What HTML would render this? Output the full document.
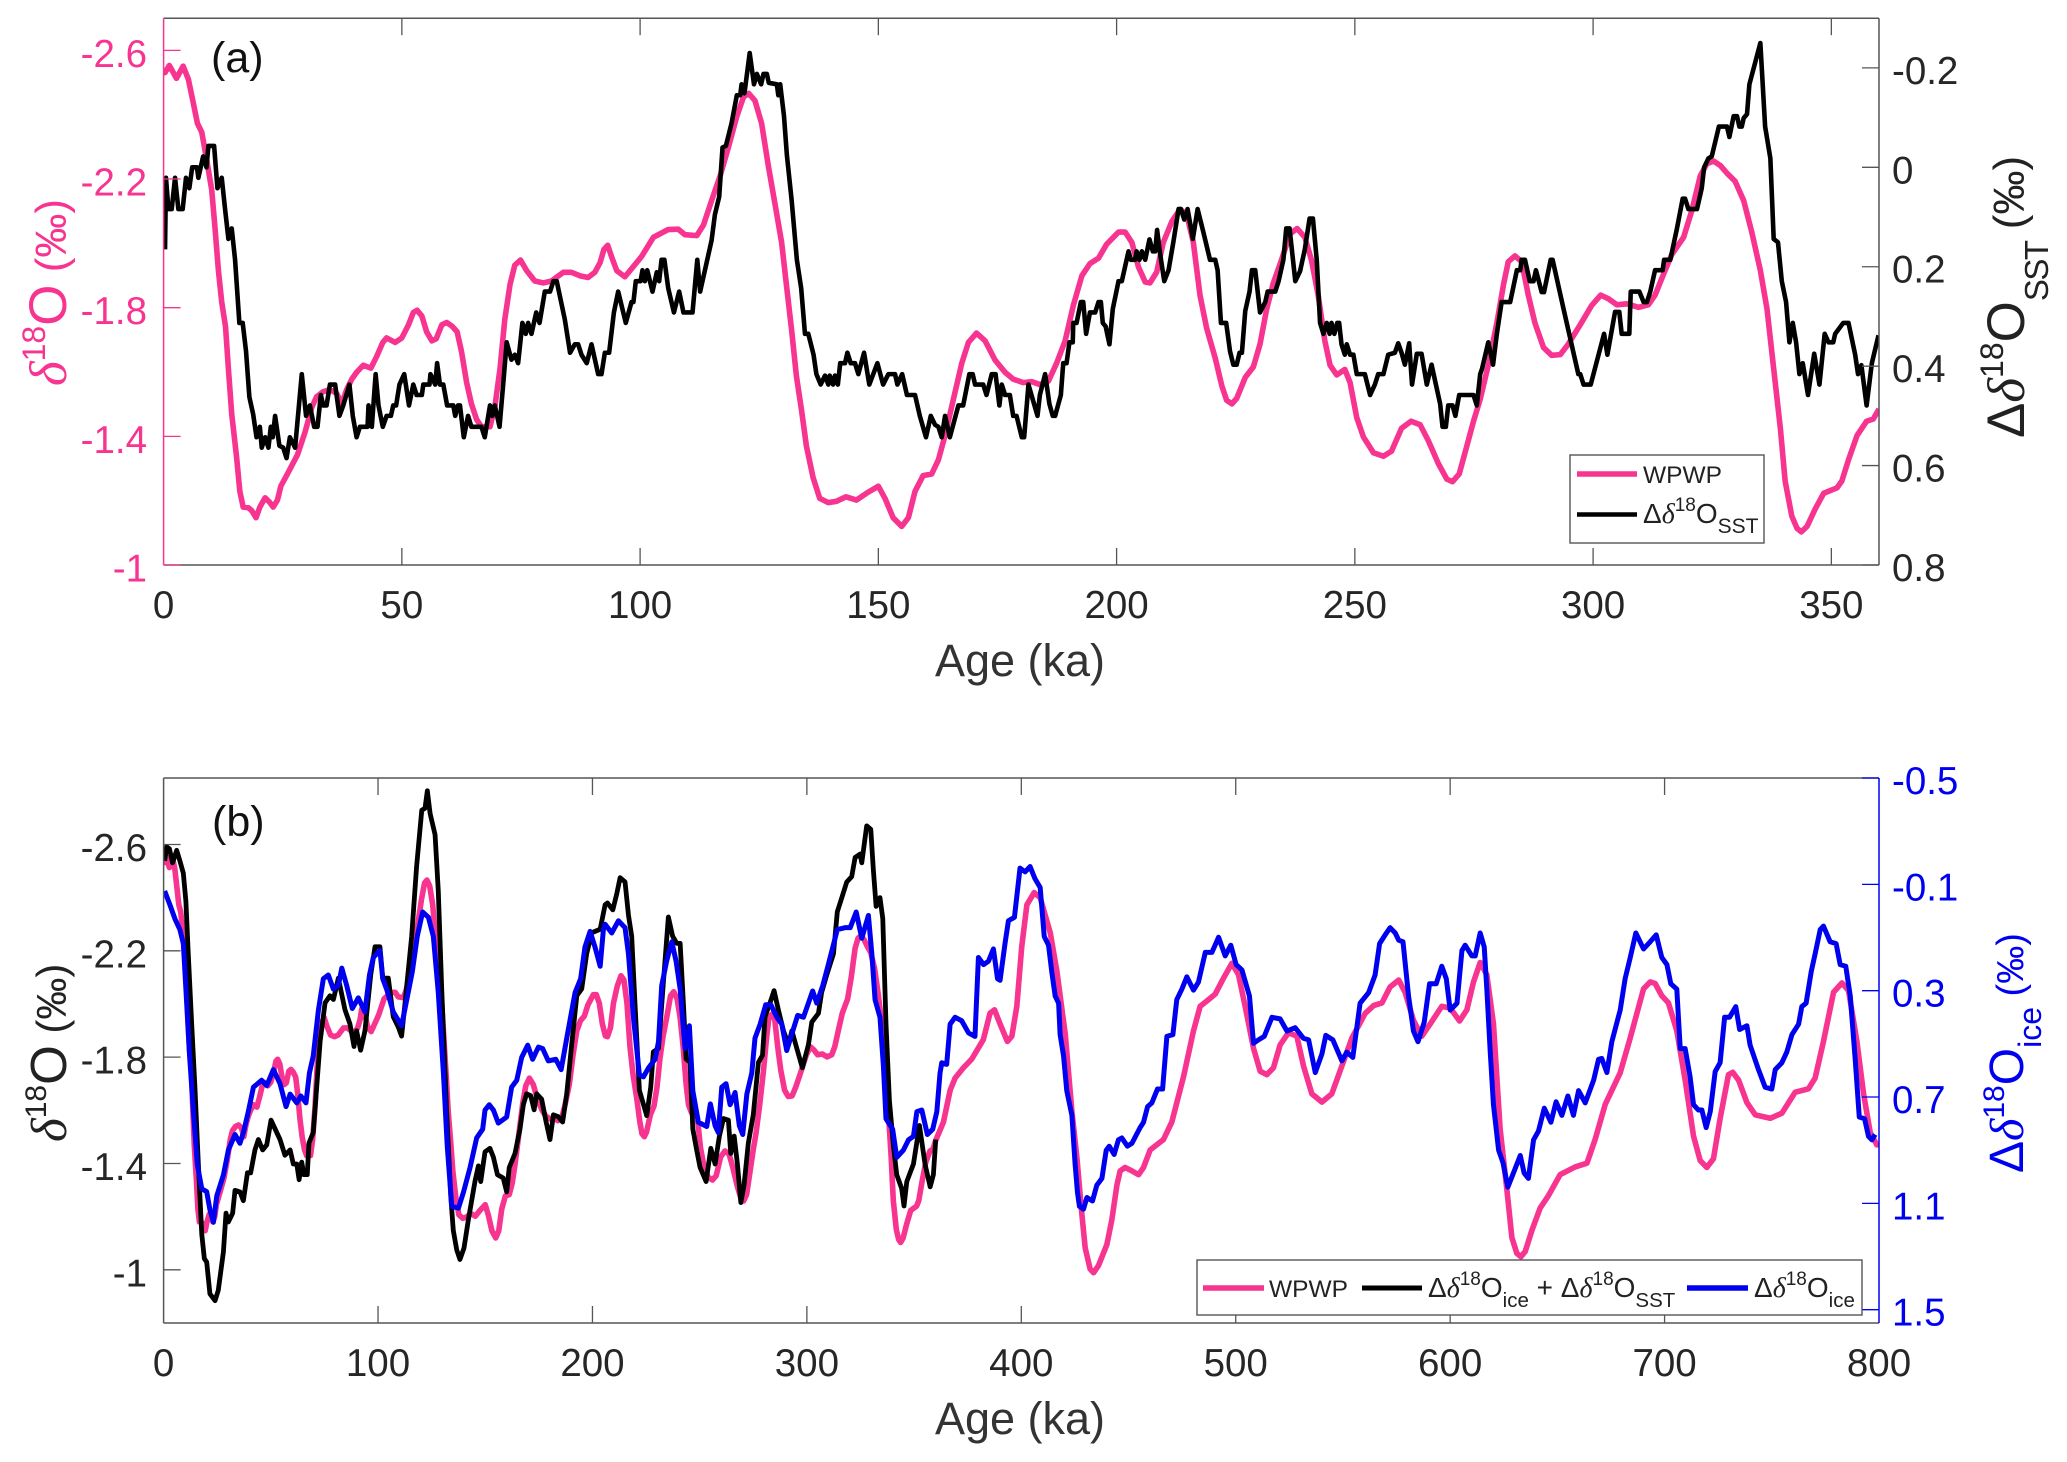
<!DOCTYPE html>
<html lang="en">
<head>
<meta charset="utf-8">
<title>WPWP δ18O comparison</title>
<style>
html,body{margin:0;padding:0;background:#fff;}
svg{display:block;font-family:"Liberation Sans",sans-serif;}
.greek{font-family:"Liberation Serif",serif;font-style:italic;}
</style>
</head>
<body>
<svg id="figure" xmlns="http://www.w3.org/2000/svg" width="2067" height="1462" viewBox="0 0 2067 1462">
<defs>
<clipPath id="clip-a"><rect x="163.6" y="18.2" width="1715.4" height="546.8"/></clipPath>
<clipPath id="clip-b"><rect x="163.6" y="778" width="1715.4" height="545"/></clipPath>
</defs>
<rect x="0" y="0" width="2067" height="1462" fill="#fff"/>
<g id="panel-a"></g>
<g id="panel-b"></g>

<text x="211" y="72" font-size="43" fill="#111">(a)</text>
<text x="212" y="836" font-size="43" fill="#111">(b)</text>

<text x="1020" y="676" font-size="45" fill="#333" text-anchor="middle">Age (ka)</text>
<text x="1020" y="1434" font-size="45" fill="#333" text-anchor="middle">Age (ka)</text>

<text transform="translate(66,386) rotate(-90)" fill="#f7348f" font-size="53"><tspan class="greek">δ</tspan><tspan font-size="32" dy="-21">18</tspan><tspan dy="21">O</tspan><tspan font-size="44"> (‰)</tspan></text>
<text transform="translate(2024,438) rotate(-90)" fill="#222" font-size="53"><tspan>Δ</tspan><tspan class="greek">δ</tspan><tspan font-size="32" dy="-21">18</tspan><tspan dy="21">O</tspan><tspan font-size="33" letter-spacing="-1.5" dy="24">SST</tspan><tspan font-size="44" dy="-24"> (‰)</tspan></text>
<text transform="translate(66,1142) rotate(-90)" fill="#222" font-size="51"><tspan class="greek">δ</tspan><tspan font-size="30" dy="-20">18</tspan><tspan dy="20">O</tspan><tspan font-size="42"> (‰)</tspan></text>
<text transform="translate(2023,1173) rotate(-90)" fill="#0000f0" font-size="48"><tspan>Δ</tspan><tspan class="greek">δ</tspan><tspan font-size="30" dy="-19">18</tspan><tspan dy="19">O</tspan><tspan font-size="32" dy="18">ice</tspan><tspan font-size="38" dy="-18"> (‰)</tspan></text>

<g>
<rect x="1570" y="455" width="194" height="88" fill="#fff" stroke="#555" stroke-width="1.4"/>
<line x1="1577" y1="474" x2="1637" y2="474" stroke="#f7348f" stroke-width="5.5"/>
<text x="1643" y="483" font-size="24.5" fill="#222">WPWP</text>
<line x1="1577" y1="514.5" x2="1637" y2="514.5" stroke="#000" stroke-width="4.5"/>
<text x="1643" y="523" font-size="28" fill="#222"><tspan>Δ</tspan><tspan class="greek">δ</tspan><tspan font-size="19" dy="-12">18</tspan><tspan dy="12">O</tspan><tspan font-size="21" dy="10">SST</tspan></text>
</g>

<g>
<rect x="1197" y="1260" width="665" height="55" fill="#fff" stroke="#555" stroke-width="1.4"/>
<line x1="1203" y1="1288" x2="1264" y2="1288" stroke="#f7348f" stroke-width="5.5"/>
<text x="1269" y="1297" font-size="24.5" fill="#222">WPWP</text>
<line x1="1362" y1="1288" x2="1422" y2="1288" stroke="#000" stroke-width="5"/>
<text x="1428" y="1297" font-size="28" fill="#222"><tspan>Δ</tspan><tspan class="greek">δ</tspan><tspan font-size="19" dy="-12">18</tspan><tspan dy="12">O</tspan><tspan font-size="20.5" dy="10">ice</tspan><tspan dy="-10"> + Δ</tspan><tspan class="greek">δ</tspan><tspan font-size="19" dy="-12">18</tspan><tspan dy="12">O</tspan><tspan font-size="20.5" dy="10">SST</tspan></text>
<line x1="1687" y1="1288" x2="1748" y2="1288" stroke="#0000f0" stroke-width="5.5"/>
<text x="1754" y="1297" font-size="28" fill="#222"><tspan>Δ</tspan><tspan class="greek">δ</tspan><tspan font-size="19" dy="-12">18</tspan><tspan dy="12">O</tspan><tspan font-size="20.5" dy="10">ice</tspan></text>
</g>
</svg>

<script>
const panelAAgeTicks = [0,50,100,150,200,250,300,350];
const panelALeftTicks = [-2.6,-2.2,-1.8,-1.4,-1];
const panelARightTicks = [-0.2,0,0.2,0.4,0.6,0.8];
const panelBAgeTicks = [0,100,200,300,400,500,600,700,800];
const panelBLeftTicks = [-2.6,-2.2,-1.8,-1.4,-1];
const panelBRightTicks = [-0.5,-0.1,0.3,0.7,1.1,1.5];

const wpwpAge = [
0,0.3,1.2,2.7,4.1,5.2,6.2,7.1,8,9,
10.1,10.8,11.5,12.2,13,13.6,14.3,15.3,16,16.7,
17.8,18.5,19.4,20.2,21.3,22.2,23,23.9,24.6,26.2,
28.1,29.7,31.1,32.1,33.5,34.9,36.3,37.4,38.4,39.5,
40.5,41.9,43.5,44.7,46,46.8,48.6,50,51.4,52.4,
53.2,54.2,55.2,56.3,57.2,58.4,59.4,60.5,61.6,62.5,
63.6,64.6,65.7,66.7,68.5,69.5,70.6,71.6,72.7,73.7,
74.9,76.2,77.9,79.7,81.4,83.9,85.6,87.4,89.1,90.5,
91.6,92.4,93.2,94,95.1,96.8,98.2,100.3,102.8,105.9,
108,109.4,111.9,113.3,115,116.8,118.5,120.3,121.7,122.8,
124.1,125.5,126.9,128.3,129.7,130.7,131.8,132.8,133.9,134.9,
136.3,137.7,139.5,141.2,143.2,145.4,147.5,150,151.4,153.1,
154.9,156.3,157.7,159.4,161.2,162.6,164,165.7,167.5,168.9,
170.6,172.4,174.5,176.6,178.3,180.4,182.2,183.9,185.7,187.4,
189.2,190.9,192.7,194.4,196.2,197.9,200.4,201.8,203.2,204.6,
206,207,208.4,209.8,211.6,213.3,214.7,216.1,217.5,218.9,
220.7,222.1,223.1,224.2,225.2,227,228.7,230.1,231.5,232.9,
234.6,236.4,237.9,239.5,240.9,242.3,243.7,244.8,246.2,247.9,
249,250.4,251.8,253.9,256,257.7,259.8,261.8,263.7,265.4,
267.5,269.3,270.5,271.9,273.5,274.9,276.3,278,279.8,281.2,
282.2,283.6,285,286.4,287.8,289.6,291.3,293.1,294.8,297.3,
299.7,301.6,303.2,305,307.1,309.5,311.6,313,314.8,316.5,
319,320.7,322.5,323.9,325.3,326.7,328.1,329.8,331.6,333.3,
335.1,336.5,337.9,339.3,340.3,341.7,342.8,343.7,344.9,346.6,
348.4,351.2,352.2,353.6,355.4,357.4,358.8,360,363.7,366.8,
369.1,373,376.9,382.3,385.4,387.5,390.1,393.5,395.6,397.9,
400.2,402.6,406,408.8,413.5,416.6,420.5,423.6,425.9,428.2,
429.8,432.1,433.7,436,439.9,442.2,444.6,446.1,448.4,451.6,
454.7,457,460.1,466.3,470.2,475.7,480.3,483.4,486.5,490.4,
494.3,498.2,501.3,504.4,508.3,511.4,514.5,517.6,520.7,524.6,
528.5,531.6,535.5,540.2,544.8,549.5,554.2,560.4,564.3,568.2,
572,576,579,582.9,586.8,590.7,596.1,600,604.4,607.8,
610.9,614,617.1,620.2,623.3,626.4,628.8,631.1,633,635,
638.1,642,645.9,651.3,658.3,663.8,667.6,672.3,679.3,684,
690.2,693.3,695.6,698.7,701.8,705.7,709.6,713.5,716.6,719.7,
722.8,725.9,729.8,731.8,734.5,738.4,742.3,749.3,754.7,760.9,
767.1,770.2,774.1,778.8,782.7,785.8,789.7,792.8,795.9,799,800];
const wpwpValue = [
-2.53,-2.531,-2.553,-2.513,-2.551,-2.51,-2.439,-2.373,-2.346,-2.264,
-2.166,-2.046,-1.916,-1.817,-1.741,-1.61,-1.469,-1.338,-1.229,-1.18,
-1.178,-1.169,-1.147,-1.18,-1.209,-1.196,-1.18,-1.202,-1.245,-1.289,
-1.343,-1.414,-1.49,-1.523,-1.539,-1.545,-1.534,-1.501,-1.545,-1.578,
-1.599,-1.621,-1.612,-1.648,-1.692,-1.706,-1.692,-1.706,-1.747,-1.785,
-1.792,-1.774,-1.725,-1.697,-1.703,-1.747,-1.754,-1.743,-1.725,-1.665,
-1.567,-1.501,-1.452,-1.43,-1.43,-1.49,-1.61,-1.763,-1.872,-1.932,
-1.948,-1.915,-1.883,-1.877,-1.883,-1.91,-1.91,-1.899,-1.894,-1.91,
-1.94,-1.981,-1.994,-1.959,-1.915,-1.896,-1.921,-1.959,-2.019,-2.043,
-2.044,-2.027,-2.024,-2.057,-2.133,-2.21,-2.297,-2.395,-2.455,-2.466,
-2.444,-2.373,-2.242,-2.123,-2.003,-1.872,-1.73,-1.588,-1.479,-1.37,
-1.272,-1.207,-1.194,-1.198,-1.212,-1.202,-1.223,-1.245,-1.207,-1.147,
-1.12,-1.147,-1.229,-1.278,-1.283,-1.327,-1.403,-1.512,-1.627,-1.692,
-1.721,-1.697,-1.637,-1.599,-1.578,-1.567,-1.57,-1.561,-1.572,-1.627,
-1.697,-1.806,-1.899,-1.937,-1.954,-1.997,-2.035,-2.035,-2.003,-1.926,
-1.88,-1.877,-1.91,-2.003,-2.068,-2.106,-2.09,-2.003,-1.839,-1.736,
-1.643,-1.556,-1.512,-1.501,-1.518,-1.583,-1.616,-1.687,-1.796,-1.877,
-1.948,-2.03,-2.046,-2.019,-1.948,-1.839,-1.697,-1.621,-1.591,-1.608,
-1.567,-1.458,-1.398,-1.349,-1.338,-1.354,-1.425,-1.447,-1.436,-1.387,
-1.316,-1.267,-1.259,-1.283,-1.37,-1.447,-1.515,-1.621,-1.752,-1.872,
-1.943,-1.961,-1.943,-1.839,-1.752,-1.676,-1.652,-1.654,-1.687,-1.747,
-1.807,-1.839,-1.828,-1.809,-1.812,-1.801,-1.809,-1.839,-1.905,-1.965,
-2.019,-2.101,-2.21,-2.248,-2.256,-2.242,-2.218,-2.193,-2.133,-2.035,
-1.916,-1.796,-1.61,-1.425,-1.261,-1.152,-1.114,-1.103,-1.12,-1.174,
-1.223,-1.24,-1.261,-1.327,-1.403,-1.447,-1.454,-1.485,-1.556,-1.675,
-1.721,-1.76,-1.793,-1.866,-1.965,-1.978,-1.925,-1.859,-1.879,-1.991,
-2.215,-2.373,-2.419,-2.4,-2.268,-2.123,-1.886,-1.596,-1.424,-1.213,
-1.082,-1.003,-0.989,-1.016,-1.095,-1.187,-1.319,-1.372,-1.385,-1.372,
-1.358,-1.385,-1.451,-1.49,-1.556,-1.728,-1.899,-1.991,-2.011,-2.037,
-2.097,-2.153,-2.11,-1.991,-1.833,-1.747,-1.734,-1.76,-1.846,-1.892,
-1.879,-1.767,-1.662,-1.631,-1.662,-1.767,-1.872,-1.965,-1.994,-2.004,
-2.064,-2.09,-2.044,-1.938,-1.879,-1.925,-1.991,-1.985,-1.936,-1.978,
-2.083,-2.156,-2.11,-1.925,-1.53,-1.306,-1.121,-1.062,-1.049,-1.069,
-1.148,-1.233,-1.28,-1.358,-1.387,-1.401,-1.49,-1.622,-1.741,-1.873,
-2.057,-2.083,-2.077,-2.031,-2.004,-1.899,-1.714,-1.503,-1.411,-1.385,
-1.418,-1.569,-1.734,-1.743,-1.714,-1.629,-1.583,-1.57,-1.589,-1.668,
-1.681,-1.721,-1.859,-2.044,-2.079,-2.05,-1.859,-1.662,-1.517,-1.47,-1.477];

const sstAge = [
0.3,0.5,1.0,1.7,2.4,3.1,4.0,4.7,5.4,6.0,
7.0,7.3,8.3,9.0,9.4,10.6,11.3,12.2,12.9,13.6,
14.3,15.0,15.9,16.6,17.3,18.0,18.8,19.5,20.2,20.6,
21.3,22.0,22.5,22.9,23.4,24.3,25.1,25.8,26.5,27.6,
29.0,29.9,30.7,31.6,32.3,33.0,33.5,34.2,34.9,36.0,
36.9,37.7,39.0,39.7,40.5,41.2,42.8,43.0,43.7,44.5,
45.1,46,46.8,47.7,48.2,48.8,49.5,50.5,51.5,52.4,
53.1,54.2,54.5,55.8,56,57,57.4,58,58.7,59.5,
60.8,61.2,61.8,62.2,63,63.9,64.6,66.7,67.4,68.5,
69,69.5,70.5,71.3,72,73,73.7,74.4,75.3,76,
76.5,77.2,78.2,78.9,80,81.1,81.8,82.5,84.2,85.3,
86.3,87,87.7,88.8,89.8,91.2,91.9,92.6,93.5,94.5,
95.4,97,98.2,98.6,99.1,100.1,100.5,101,101.5,102.6,
103.5,104,104.5,105.1,105.9,107.1,108.2,109.1,111,112,
112.6,115,115.7,116.6,117.3,118,119.2,120.3,121,121.3,
121.9,123,123.9,124.5,125.4,125.9,126.6,127,128.7,129,
129.4,130.2,130.8,131.8,132.9,133.8,134.6,135.3,136.4,137,
137.9,138.8,139.5,139.8,140.5,140.9,141.5,142,143,143.5,
144.2,145.1,145.8,147,148.1,149.8,151,152.1,153.5,154,
155,156,157.7,158.7,160,161,161.9,162.6,163.3,164,
165,166.8,167.8,169.1,169.8,170.3,172,172.7,173.8,174.6,
175.4,175.9,176.6,177.6,178.3,179,180.1,180.6,181.5,183.4,
183.9,185,185.9,186.6,187.1,188.3,188.8,189.5,190.1,190.8,
190.9,191.6,192.5,193,193.6,194.4,195.5,196.2,196.7,197.1,
197.7,198.5,199.2,200.4,201.1,202.5,203,203.9,204.2,204.8,
205.3,206,206.9,207.6,208.1,208.5,209.1,210,210.9,211.9,
213,213.5,214.2,214.9,216,217,218.2,219.6,220.7,221.2,
221.9,223,223.8,224.5,225.2,225.8,226.3,227,227.9,228.4,
229.1,230.1,231.2,231.7,233.3,234,235,235.6,236.3,237.5,
238.5,239.5,240.5,241.2,242,242.7,243.4,244.1,244.7,245.1,
245.7,246.3,246.7,247.2,247.9,248.3,249,249.7,250.4,252.1,
253.2,254.2,254.9,256,257,258.4,259.1,259.8,260.5,261.4,
262,263,264,265.1,266.1,267.9,268.4,269.1,269.6,270.5,
271.1,271.9,274.9,275.6,276.3,276.7,278,279,279.8,280.8,
282.6,284,284.7,285,285.7,286.7,287.5,288,289.2,289.7,
291.1,291.5,293.8,296.9,297.3,298,299.5,302.3,303,304.6,
305.5,306,307.6,307.9,309.7,310.6,311.3,312,313,314.6,
314.9,316.2,317.6,318.8,319.3,320,321.8,322.8,323.3,324.2,
324.9,326.4,328.1,328.6,329.5,330.2,330.7,331.2,331.6,332.3,
332.8,335.1,336.1,337.2,337.9,338.8,339.6,340.5,341.2,341.9,
342.6,343.3,344,345.1,346.4,347.5,348.6,349.4,350.4,350.8,
352.5,353.6,355,355.6,356.3,357.4,358.5,359.9];
const sstValue = [
0.165,0.021,0.084,0.084,0.021,0.084,0.084,0.021,0.042,0,
0,0.021,-0.022,0,-0.043,-0.043,0.042,0.021,0.084,0.144,
0.123,0.186,0.313,0.313,0.37,0.462,0.497,0.543,0.522,0.564,
0.543,0.564,0.522,0.543,0.5,0.56,0.564,0.585,0.543,0.564,
0.416,0.5,0.479,0.522,0.522,0.458,0.479,0.479,0.437,0.437,
0.5,0.479,0.437,0.5,0.543,0.522,0.522,0.479,0.522,0.416,
0.479,0.522,0.5,0.5,0.479,0.479,0.437,0.416,0.479,0.437,
0.458,0.458,0.437,0.437,0.416,0.437,0.394,0.437,0.437,0.479,
0.479,0.5,0.479,0.479,0.543,0.5,0.522,0.522,0.543,0.479,
0.5,0.479,0.522,0.433,0.352,0.387,0.377,0.394,0.313,0.335,
0.313,0.335,0.292,0.313,0.25,0.25,0.229,0.229,0.306,0.373,
0.356,0.356,0.377,0.394,0.356,0.416,0.416,0.373,0.373,0.292,
0.25,0.313,0.271,0.271,0.229,0.229,0.207,0.229,0.207,0.25,
0.211,0.229,0.186,0.186,0.243,0.292,0.25,0.292,0.292,0.186,
0.25,0.147,0.095,0.059,-0.04,-0.043,-0.089,-0.145,-0.145,-0.167,
-0.149,-0.23,-0.167,-0.188,-0.167,-0.188,-0.188,-0.17,-0.167,-0.145,
-0.167,-0.103,-0.025,0.066,0.186,0.243,0.335,0.335,0.377,0.416,
0.437,0.419,0.437,0.419,0.437,0.419,0.437,0.394,0.394,0.373,
0.394,0.394,0.416,0.373,0.437,0.394,0.437,0.416,0.416,0.437,
0.416,0.458,0.458,0.5,0.543,0.5,0.518,0.522,0.543,0.5,
0.543,0.479,0.479,0.416,0.416,0.437,0.437,0.458,0.416,0.416,
0.479,0.437,0.458,0.458,0.5,0.5,0.543,0.543,0.437,0.5,
0.458,0.416,0.476,0.5,0.5,0.458,0.394,0.394,0.352,0.352,
0.313,0.313,0.271,0.271,0.335,0.292,0.292,0.271,0.271,0.313,
0.32,0.356,0.285,0.229,0.229,0.169,0.186,0.186,0.169,0.186,
0.169,0.186,0.145,0.169,0.169,0.126,0.172,0.229,0.207,0.151,
0.084,0.084,0.105,0.084,0.144,0.084,0.13,0.186,0.186,0.207,
0.313,0.313,0.37,0.397,0.397,0.373,0.373,0.289,0.25,0.207,
0.207,0.292,0.271,0.25,0.25,0.229,0.186,0.123,0.123,0.229,
0.209,0.165,0.103,0.103,0.186,0.313,0.335,0.313,0.335,0.313,
0.335,0.313,0.313,0.356,0.377,0.356,0.377,0.377,0.416,0.416,
0.458,0.437,0.416,0.416,0.377,0.373,0.354,0.373,0.397,0.354,
0.437,0.375,0.375,0.437,0.397,0.476,0.522,0.522,0.479,0.479,
0.5,0.458,0.458,0.479,0.416,0.405,0.352,0.397,0.335,0.271,
0.271,0.207,0.207,0.186,0.186,0.229,0.229,0.207,0.251,0.251,
0.186,0.186,0.285,0.416,0.416,0.437,0.437,0.335,0.377,0.291,
0.291,0.335,0.335,0.25,0.25,0.271,0.271,0.25,0.207,0.207,
0.186,0.186,0.123,0.063,0.063,0.084,0.084,0.042,0,-0.018,
-0.022,-0.082,-0.082,-0.061,-0.103,-0.103,-0.082,-0.082,-0.099,-0.107,
-0.167,-0.25,-0.082,-0.018,0.144,0.151,0.229,0.271,0.352,0.313,
0.352,0.416,0.394,0.458,0.375,0.437,0.335,0.352,0.352,0.335,
0.313,0.313,0.377,0.416,0.398,0.479,0.394,0.338];

const combinedAge = [
0.5,1.4,2.7,4.2,6.1,7.6,9.2,10.4,11.5,13.1,
14.6,16.2,17.8,19,20.1,21.6,24,25.5,27.9,29.1,
30.2,32.2,33.3,35.6,37.2,39.1,40.6,42.6,44.2,46.2,
48.1,50.1,52,54.3,56.6,59,60.5,62.1,63.2,64.4,
65.5,67,67.8,69.8,71.4,73,75.3,77.6,79.2,81.5,
84.6,86.9,88.8,90,91.9,93.9,96.6,98.6,100.9,102.2,
104.8,107.1,109.5,111,112.6,115.7,118,120.4,121.9,123,
124.3,126.6,128.1,129.7,132,133.9,135.1,136.7,138.2,140.1,
142.1,145.2,146.8,147.9,149.9,152.2,153.8,155.7,158.4,160,
161.2,163.9,166.2,167.8,169.3,171.2,172.8,174,176.3,178.4,
180.2,181.8,184.1,186.1,188,190.3,192.7,195,197.3,199.7,
203.6,205.9,207,209.5,211.3,212.9,215.2,216.8,218.3,219.9,
221.9,223.8,225.3,227.2,228.4,230.8,233.1,235.4,237.4,239.3,
240.9,242.4,243.7,245.5,246.8,248.6,250.2,253,255.2,257.2,
259.2,261.1,263.4,264.5,266.1,267.6,269.2,270.7,272.7,275,
277.4,279.3,280.5,282.8,284.7,286.7,289.1,291.4,293,295.3,
297.9,300.7,302.3,305.4,306.9,309.3,312.4,314.2,316.3,318.6,
320.9,322.5,324.8,325.6,327.9,329.8,331,332.3,334.1,335.4,
336.9,338.5,340.4,341.9,344.2,345.3,346.6,349.7,352.5,355.1,
357.5,359,360.1];
const combinedValue = [
-2.538,-2.591,-2.584,-2.531,-2.578,-2.538,-2.492,-2.386,-2.189,-1.925,
-1.688,-1.398,-1.134,-1.042,-1.029,-0.91,-0.884,-0.923,-1.068,-1.213,
-1.18,-1.213,-1.299,-1.293,-1.26,-1.365,-1.365,-1.451,-1.49,-1.451,
-1.47,-1.563,-1.53,-1.49,-1.431,-1.451,-1.398,-1.398,-1.339,-1.405,
-1.358,-1.358,-1.477,-1.517,-1.688,-1.859,-2.004,-2.031,-2.017,-2.097,
-1.978,-1.925,-1.84,-1.899,-1.826,-1.899,-2.11,-2.215,-2.215,-2.097,
-2.097,-1.952,-1.912,-1.879,-2.004,-2.255,-2.518,-2.729,-2.736,-2.802,
-2.716,-2.637,-2.426,-2.057,-1.596,-1.279,-1.148,-1.075,-1.039,-1.082,
-1.187,-1.332,-1.391,-1.332,-1.444,-1.457,-1.424,-1.358,-1.345,-1.293,
-1.385,-1.438,-1.53,-1.622,-1.662,-1.655,-1.602,-1.662,-1.642,-1.556,
-1.49,-1.583,-1.576,-1.556,-1.662,-1.846,-2.031,-2.057,-2.189,-2.268,
-2.281,-2.373,-2.38,-2.354,-2.413,-2.475,-2.459,-2.334,-2.255,-1.991,
-1.675,-1.622,-1.58,-1.688,-1.82,-1.833,-2.083,-2.327,-2.255,-2.228,
-2.228,-2.004,-1.793,-1.78,-1.53,-1.451,-1.385,-1.332,-1.457,-1.398,
-1.503,-1.569,-1.563,-1.438,-1.503,-1.398,-1.253,-1.319,-1.477,-1.583,
-1.78,-1.807,-1.952,-2.004,-2.05,-1.978,-1.899,-1.846,-1.899,-1.833,
-1.76,-1.846,-1.932,-1.965,-2.044,-2.11,-2.189,-2.347,-2.4,-2.459,
-2.479,-2.551,-2.564,-2.531,-2.67,-2.657,-2.505,-2.367,-2.4,-2.321,
-1.925,-1.635,-1.464,-1.358,-1.306,-1.24,-1.332,-1.398,-1.543,-1.398,
-1.312,-1.358,-1.49];

const iceAge = [
0.5,3,5.3,7.6,9.2,10.4,12,13.9,15.7,17.8,
20.1,21.6,23.2,24.8,27.9,30.2,33.3,35.6,37.2,39.5,
41.9,45.7,48.1,51.2,54.3,57.1,59,62.1,64,66.4,
68,69.8,72.2,74.5,76.8,79.2,81.5,83.1,85.4,88,
90.8,93.9,96,97.8,100.9,102.2,104,107.1,111,113.4,
116,118.3,120.8,123.5,125.8,128.1,130.5,132.3,134.4,137.5,
139.8,142.9,146,148.8,149.9,151.9,153.8,156.1,160,162.3,
164.7,167,169.8,172.1,174.8,176.8,179.4,182.9,185.4,188,
191.9,194.5,196.5,198.9,201.2,203.6,205.1,205.9,209,212.1,
215.2,216.8,219.1,221.9,223.8,226.1,229.2,230.8,232.3,234.6,
237,239,240.9,243.2,245.2,246.8,249.4,253.3,255,257.2,
258.7,260.3,262.3,264.2,266.5,268.5,270.1,272,274.3,275.8,
278.2,280.8,283.2,286,288.3,290.6,293.4,295.7,298.4,302.7,
304.6,307.4,310,314.2,317.8,320.2,323,325.6,328.7,330.3,
331.8,334.1,335.7,336.9,340,341.9,345,347.4,349.7,351.3,
353.6,356.2,358.7,360.6,362.1,362.9,365.2,366.8,369.1,372.2,
375.4,378.4,380,382.4,384.7,387,388.9,390.1,392.4,394,
396.8,399.4,401.8,404.1,406.4,408.8,410.7,412.7,414.2,415.8,
417.4,418.1,419.7,421.2,423.6,425.1,426.2,427.1,429,430.6,
433.2,435.2,437.6,439.6,441,443.3,445.3,446.9,449.5,451.6,
455.4,457,458.9,460.9,463.5,465.9,467.9,470.7,472.5,474.9,
477.2,480.3,482.6,485.8,488.9,492,495.1,497.7,500.2,502.9,
506.4,508.3,510.6,513.3,516.9,520.7,523.9,527.7,531.6,534,
537.1,540.2,542,545.3,549.5,551.8,554.6,558,562,565,
567.1,569.7,572,574.4,576,578,580.6,582.9,585,587.9,
590.4,593.5,596.1,598.2,600,603.2,605.5,607,610.1,611.7,
614,615.9,617.1,618.7,620.2,622.6,624.6,626.9,629.5,632.7,
634.5,636.5,638.9,641.2,643.9,647,649.4,652.1,654.9,657.5,
659.9,663,666.9,669.2,670.7,673.1,675.4,679.3,681.6,684,
686.6,690.2,693.3,696.1,698.7,701.1,702.9,705.7,707.3,709.6,
711.9,713.5,715.8,717.4,719.4,721.3,723.6,725.9,728,730.3,
733.2,735,738.4,739.9,743.8,746.9,750,751.6,754.7,757,
759.4,762.5,764,766,768.4,770.2,772.6,774.1,777.2,780,
781.9,784.5,786.6,788.9,790.8,793.3,795.1,796.7,798.2];
const iceValue = [
-0.075,-0.022,0.03,0.07,0.123,0.294,0.531,0.755,0.953,1.045,
1.056,1.124,1.171,1.072,0.993,0.9,0.841,0.874,0.834,0.755,
0.663,0.637,0.657,0.597,0.65,0.736,0.689,0.722,0.696,0.722,
0.61,0.545,0.373,0.255,0.241,0.294,0.281,0.215,0.281,0.367,
0.327,0.38,0.241,0.175,0.149,0.255,0.294,0.38,0.432,0.334,
0.228,0.096,0.004,0.024,0.096,0.307,0.61,0.887,1.111,1.118,
1.059,0.966,0.854,0.821,0.749,0.729,0.749,0.798,0.775,0.663,
0.637,0.551,0.505,0.558,0.512,0.518,0.564,0.558,0.597,0.479,
0.307,0.255,0.136,0.077,0.136,0.208,0.07,0.05,0.083,0.037,
0.063,0.162,0.4,0.617,0.624,0.591,0.558,0.492,0.281,0.189,
0.116,0.189,0.294,0.518,0.432,0.676,0.795,0.811,0.726,0.808,
0.834,0.663,0.65,0.729,0.683,0.808,0.841,0.689,0.61,0.479,
0.426,0.353,0.353,0.4,0.426,0.525,0.452,0.393,0.4,0.301,
0.347,0.281,0.202,0.07,0.063,0.063,0.004,0.103,0.017,0.162,
0.334,0.4,0.584,0.782,0.821,0.927,0.9,0.861,0.848,0.755,
0.749,0.841,0.821,0.755,0.61,0.571,0.577,0.426,0.4,0.413,
0.459,0.472,0.175,0.202,0.189,0.143,0.255,0.261,0.123,0.037,
0.024,-0.161,-0.147,-0.167,-0.121,-0.088,0.096,0.129,0.228,0.32,
0.347,0.465,0.545,0.676,0.769,0.953,1.059,1.111,1.122,1.078,
1.091,1.032,1.006,0.9,0.885,0.916,0.861,0.854,0.885,0.874,
0.815,0.795,0.736,0.722,0.67,0.67,0.472,0.465,0.334,0.294,
0.248,0.298,0.268,0.156,0.156,0.099,0.169,0.129,0.202,0.222,
0.32,0.498,0.485,0.472,0.4,0.406,0.452,0.439,0.479,0.485,
0.608,0.538,0.468,0.485,0.564,0.531,0.551,0.347,0.307,0.241,
0.123,0.09,0.063,0.083,0.11,0.116,0.32,0.452,0.492,0.419,
0.274,0.274,0.208,0.255,0.373,0.347,0.149,0.129,0.169,0.169,
0.083,0.136,0.294,0.531,0.729,0.9,0.946,1.039,0.986,0.92,
0.986,1.006,0.861,0.828,0.742,0.795,0.718,0.769,0.696,0.769,
0.676,0.722,0.637,0.558,0.555,0.608,0.492,0.373,0.255,0.175,
0.083,0.143,0.116,0.09,0.175,0.202,0.274,0.294,0.518,0.518,
0.624,0.729,0.749,0.749,0.815,0.755,0.604,0.571,0.4,0.4,
0.36,0.446,0.432,0.505,0.597,0.663,0.67,0.597,0.571,0.531,
0.465,0.426,0.36,0.347,0.228,0.162,0.07,0.057,0.116,0.123,
0.202,0.208,0.32,0.558,0.775,0.782,0.848,0.861,0.841];

const SVG_NS = 'http://www.w3.org/2000/svg';
const AXIS_GREY = '#555555';
const TICK_LEN = 17;
const PINK = '#f7348f';
const ICE_BLUE = '#0000f0';

function linearScale(domainStart, domainEnd, rangeStart, rangeEnd) {
  return function (v) {
    return rangeStart + (v - domainStart) / (domainEnd - domainStart) * (rangeEnd - rangeStart);
  };
}

const xA = linearScale(0, 360, 163.6, 1879);
const yALeft = linearScale(-2.7, -1, 18.2, 565);
const yARight = linearScale(-0.3, 0.8, 18.2, 565);
const xB = linearScale(0, 800, 163.6, 1879);
const yBLeft = linearScale(-2.85, -0.8, 778, 1323);
const yBRight = linearScale(-0.5, 1.55, 778, 1323);

function makeLine(parent, x1, y1, x2, y2, color, width, name) {
  const el = document.createElementNS(SVG_NS, 'line');
  el.setAttribute('x1', x1);
  el.setAttribute('y1', y1);
  el.setAttribute('x2', x2);
  el.setAttribute('y2', y2);
  el.setAttribute('stroke', color);
  el.setAttribute('stroke-width', width);
  
  
  parent.appendChild(el);
  return el;
}

function makeLabel(parent, x, y, anchor, color, content, name) {
  const el = document.createElementNS(SVG_NS, 'text');
  el.setAttribute('x', x);
  el.setAttribute('y', y);
  el.setAttribute('text-anchor', anchor);
  el.setAttribute('font-size', '38.5');
  el.setAttribute('fill', color);
  el.textContent = content;
  
  
  parent.appendChild(el);
  return el;
}

function drawSeries(parent, ages, values, xScale, yScale, color, width, clipId, name) {
  const count = Math.min(ages.length, values.length);
  let d = '';
  for (let i = 0; i < count; i++) {
    d += (i === 0 ? 'M' : 'L') + xScale(ages[i]).toFixed(2) + ' ' + yScale(values[i]).toFixed(2);
  }
  const el = document.createElementNS(SVG_NS, 'path');
  el.setAttribute('d', d);
  el.setAttribute('fill', 'none');
  el.setAttribute('stroke', color);
  el.setAttribute('stroke-width', width);
  el.setAttribute('stroke-linejoin', 'round');
  el.setAttribute('clip-path', 'url(#' + clipId + ')');
  
  
  parent.appendChild(el);
}

function drawAxes(parent, prefix, cfg) {
  const L = 163.6, R = 1879, T = cfg.top, B = cfg.bottom;
  makeLine(parent, L, T, R, T, AXIS_GREY, 1.5, prefix + '-top-axis-line');
  makeLine(parent, L, B, R, B, AXIS_GREY, 1.5, prefix + '-x-axis-line');
  makeLine(parent, L, T, L, B, cfg.leftColor, 1.5, prefix + '-left-axis-line');
  makeLine(parent, R, T, R, B, cfg.rightColor, 1.5, prefix + '-right-axis-line');
  cfg.xTicks.forEach(function (t) {
    const x = cfg.x(t);
    if (t !== 0 && x < R - 1) {
      makeLine(parent, x, B, x, B - TICK_LEN, AXIS_GREY, 1.3, prefix + '-x-tick-bottom');
      makeLine(parent, x, T, x, T + TICK_LEN, AXIS_GREY, 1.3, prefix + '-x-tick-top');
    }
    makeLabel(parent, x, B + 53, 'middle', '#262626', String(t), prefix + '-x-tick-label');
  });
  cfg.leftTicks.forEach(function (t) {
    const y = cfg.yLeft(t);
    makeLine(parent, L, y, L + TICK_LEN, y, cfg.leftColor, 1.3, prefix + '-left-tick');
    makeLabel(parent, 147, y + 16.5, 'end', cfg.leftColor === AXIS_GREY ? '#262626' : cfg.leftColor, String(t), prefix + '-left-tick-label');
  });
  cfg.rightTicks.forEach(function (t) {
    const y = cfg.yRight(t);
    makeLine(parent, R, y, R - TICK_LEN, y, cfg.rightColor, 1.3, prefix + '-right-tick');
    makeLabel(parent, 1892, y + 16, 'start', cfg.rightColor === AXIS_GREY ? '#262626' : cfg.rightColor, String(t), prefix + '-right-tick-label');
  });
}

const panelA = document.getElementById('panel-a');
const panelB = document.getElementById('panel-b');

drawSeries(panelA, wpwpAge.filter(function (a) { return a <= 360; }), wpwpValue, xA, yALeft, PINK, 5.6, 'clip-a', 'wpwp-line-a');
drawSeries(panelA, sstAge, sstValue, xA, yARight, '#000000', 4.6, 'clip-a', 'sst-line');
drawAxes(panelA, 'panel-a', {
  top: 18.2, bottom: 565, x: xA, yLeft: yALeft, yRight: yARight,
  xTicks: panelAAgeTicks, leftTicks: panelALeftTicks, rightTicks: panelARightTicks,
  leftColor: PINK, rightColor: AXIS_GREY
});

drawSeries(panelB, wpwpAge, wpwpValue, xB, yBLeft, PINK, 5.6, 'clip-b', 'wpwp-line-b');
drawSeries(panelB, combinedAge, combinedValue, xB, yBLeft, '#000000', 4.8, 'clip-b', 'combined-line');
drawSeries(panelB, iceAge, iceValue, xB, yBRight, ICE_BLUE, 5, 'clip-b', 'ice-line');
drawAxes(panelB, 'panel-b', {
  top: 778, bottom: 1323, x: xB, yLeft: yBLeft, yRight: yBRight,
  xTicks: panelBAgeTicks, leftTicks: panelBLeftTicks, rightTicks: panelBRightTicks,
  leftColor: AXIS_GREY, rightColor: ICE_BLUE
});
</script>
</body>
</html>
